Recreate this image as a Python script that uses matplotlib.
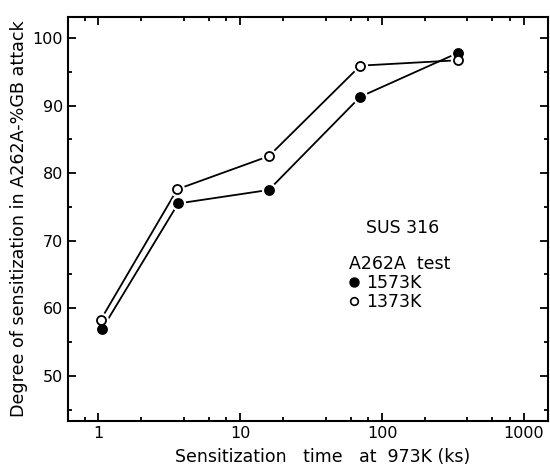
import matplotlib
matplotlib.use("Agg")
import matplotlib.pyplot as plt
from matplotlib.lines import Line2D
from matplotlib.ticker import FixedLocator, LogLocator, NullFormatter

# sensitization time at 973K (ks)
time_1573 = [1.06, 3.65, 15.9, 70.3, 344]
time_1373 = [1.04, 3.6, 15.9, 70.3, 344]
# degree of sensitization, % GB attack
gb_1573 = [56.9, 75.5, 77.5, 91.3, 97.8]
gb_1373 = [58.3, 77.6, 82.5, 95.9, 96.7]

xticks = [1, 10, 100, 1000]
xtick_labels = ["1", "10", "100", "1000"]
yticks = [50, 60, 70, 80, 90, 100]

plt.rcParams["font.family"] = ["DejaVu Sans"]

fig = plt.figure(figsize=(5.5, 4.67), dpi=100)
ax = fig.add_axes([0.1236, 0.0985, 0.8728, 0.8651])

for t, v, face in [(time_1573, gb_1573, "black"), (time_1373, gb_1373, "white")]:
    ax.plot(t, v, color="black", lw=1.3, zorder=1)
    # white halo so the lines stop short of the markers
    ax.plot(t, v, "o", ms=10, mfc="white", mec="white", zorder=2)
    ax.plot(t, v, "o", ms=6.5, mfc=face, mec="black", mew=1.3, zorder=3)

ax.set_xscale("log")
ax.set_xlim(0.61, 1480)
ax.set_ylim(43.3, 103.1)
ax.set_xticks(xticks)
ax.set_xticklabels(xtick_labels)
ax.xaxis.set_minor_locator(LogLocator(base=10, subs=[2, 4, 6, 8]))
ax.xaxis.set_minor_formatter(NullFormatter())
ax.set_yticks(yticks)
ax.yaxis.set_minor_locator(FixedLocator([45, 55, 65, 75, 85, 95]))

ax.tick_params(which="both", direction="in", top=True, right=True, width=1.3, labelsize=11.5)
ax.tick_params(which="major", length=6)
ax.tick_params(which="minor", length=3)
for s in ax.spines.values():
    s.set_linewidth(1.5)

ax.set_xlabel("Sensitization   time   at  973K (ks)", fontsize=12.5)
ax.set_ylabel("Degree of sensitization in A262A-%GB attack", fontsize=12.6)
ax.xaxis.set_label_coords(0.53, -0.068)
ax.yaxis.set_label_coords(-0.083, 0.5)

ax.text(0.62, 0.465, "SUS 316", transform=ax.transAxes, fontsize=12.5)
handles = [
    Line2D([], [], ls="none", marker="o", ms=6.5, mfc="black", mec="black"),
    Line2D([], [], ls="none", marker="o", ms=5.5, mfc="white", mec="black", mew=1.2),
]
ax.legend(handles, ["1573K", "1373K"], title="A262A  test", alignment="left",
          loc="upper left", bbox_to_anchor=(0.56, 0.44), frameon=False,
          fontsize=12.5, title_fontsize=12.5, handlelength=0.6, handletextpad=0.4,
          labelspacing=0.05, borderpad=0.2)

fig.savefig("out.png", dpi=100)
